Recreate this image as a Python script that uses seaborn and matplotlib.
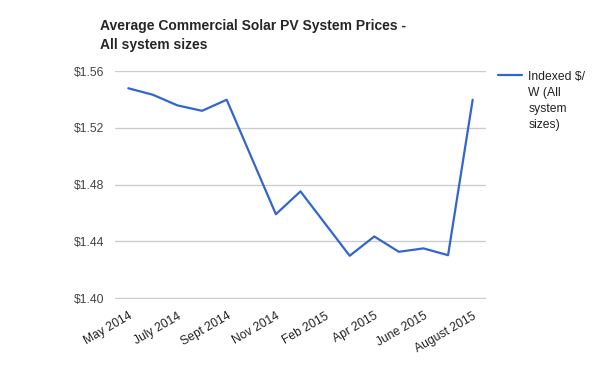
import pandas as pd
import matplotlib.pyplot as plt
import seaborn as sns

# Monthly index values
months = ["May 2014", "June 2014", "July 2014", "Aug 2014", "Sept 2014", "Oct 2014",
          "Nov 2014", "Dec 2014", "Feb 2015", "Mar 2015", "Apr 2015", "May 2015",
          "June 2015", "July 2015", "August 2015"]
prices = [1.548, 1.5434, 1.5359, 1.5321, 1.5399, 1.4995, 1.4592, 1.4753,
          1.4526, 1.4299, 1.4435, 1.4327, 1.4351, 1.4303, 1.5399]
y_ticks = [1.40, 1.44, 1.48, 1.52, 1.56]
series_name = "Indexed $/\nW (All\nsystem\nsizes)"

df = pd.DataFrame({"idx": range(len(months)), "month": months, "price": prices})

sns.set_style("white")
plt.rcParams["font.family"] = ["Liberation Sans", "DejaVu Sans"]

fig = plt.figure(figsize=(6, 3.71), dpi=100)
ax = fig.add_axes([0.1917, 0.194, 0.6178, 0.614])

sns.lineplot(data=df, x="idx", y="price", color="#3366cc", linewidth=1.6,
             label=series_name, ax=ax)

# Axes styling
ax.set_xlim(-0.54, len(months) - 1 + 0.53)
ax.set_ylim(1.3994, 1.56)
ax.set_yticks(y_ticks)
ax.set_yticklabels([f"${v:.2f}" for v in y_ticks], color="#444444", fontsize=8.7)
ax.set_xticks(df["idx"][::2])
ax.set_xticklabels(df["month"][::2], rotation=30, ha="right", rotation_mode="anchor",
                   color="#222222", fontsize=8.7)
ax.tick_params(axis="y", length=0, pad=8)
ax.tick_params(axis="x", length=0, pad=8)
ax.grid(axis="y", color="#cccccc", linewidth=1)
ax.set_axisbelow(True)
for s in ax.spines.values():
    s.set_visible(False)
ax.set_xlabel("")
ax.set_ylabel("")

fig.text(100 / 600, 1 - 19 / 371, "Average Commercial Solar PV System Prices -\nAll system sizes",
         fontsize=10, fontweight="bold", ha="left", va="top", linespacing=1.5)

leg = ax.legend(loc="upper left", bbox_to_anchor=(498 / 600, 1 - 71 / 371),
                bbox_transform=fig.transFigure, frameon=False, fontsize=8.7,
                handlelength=2.0, handletextpad=0.5, borderaxespad=0, borderpad=0)
for t in leg.get_texts():
    t.set_linespacing(1.45)
    t.set_color("#222222")
# keep the legend line next to the first text line
for col in leg._legend_handle_box.get_children():
    for row in col.get_children():
        row.align = "top"

plt.savefig("out.png", dpi=100)
